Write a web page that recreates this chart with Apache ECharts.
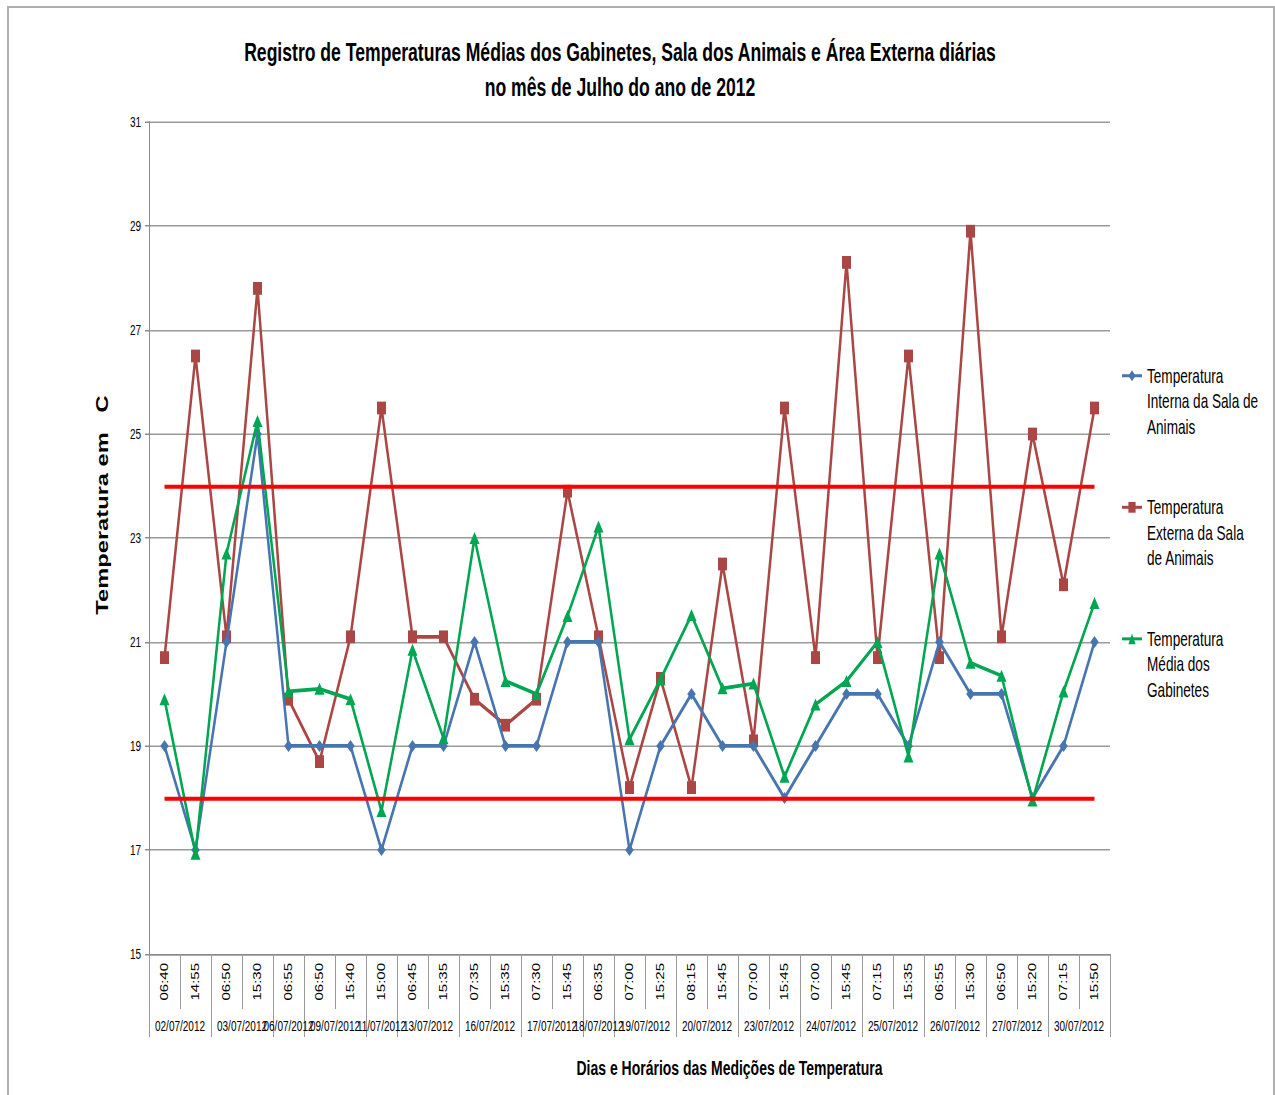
<!DOCTYPE html>
<html>
<head>
<meta charset="utf-8">
<script src="https://cdn.jsdelivr.net/npm/echarts@6/dist/echarts.min.js"></script>
<style>
html,body{margin:0;padding:0;background:#fff;overflow:hidden;width:1275px;height:1095px;}
#wrap{position:absolute;left:0;top:0;width:1275px;height:730px;transform:scaleY(1.5);transform-origin:0 0;}
#chart{width:1275px;height:730px;}
#frame{position:absolute;left:7px;top:6px;width:1264px;height:1110px;border:2px solid #b0b0b0;border-bottom:none;pointer-events:none;}
</style>
</head>
<body>
<div id="wrap"><div id="chart"></div></div>
<div id="frame"></div>
<script>
// ---- data ----
const times = ['06:40','14:55','06:50','15:30','06:55','06:50','15:40','15:00','06:45','15:35','07:35','15:35','07:30','15:45','06:35','07:00','15:25','08:15','15:45','07:00','15:45','07:00','15:45','07:15','15:35','06:55','15:30','06:50','15:20','07:15','15:50'];
const dates = ['02/07/2012','02/07/2012','03/07/2012','03/07/2012','06/07/2012','09/07/2012','09/07/2012','11/07/2012','13/07/2012','13/07/2012','16/07/2012','16/07/2012','17/07/2012','17/07/2012','18/07/2012','19/07/2012','19/07/2012','20/07/2012','20/07/2012','23/07/2012','23/07/2012','24/07/2012','24/07/2012','25/07/2012','25/07/2012','26/07/2012','26/07/2012','27/07/2012','27/07/2012','30/07/2012','30/07/2012'];
const interna = [19,17,21,25,19,19,19,17,19,19,21,19,19,21,21,17,19,20,19,19,18,19,20,20,19,21,20,20,18,19,21];
const externa = [20.7,26.5,21.1,27.8,19.9,18.7,21.1,25.5,21.1,21.1,19.9,19.4,19.9,23.9,21.1,18.2,20.3,18.2,22.5,19.1,25.5,20.7,28.3,20.7,26.5,20.7,28.9,21.1,25,22.1,25.5];
const gabinetes = [19.9,16.93,22.7,25.25,20.05,20.1,19.9,17.75,20.85,19.15,23,20.25,20,21.5,23.22,19.13,20.28,21.52,20.11,20.2,18.41,19.8,20.25,21,18.8,22.7,20.6,20.35,17.95,20.05,21.75];
const limiteSuperior = 24;
const limiteInferior = 18;
const seriesNames = ['Temperatura Interna da Sala de Animais','Temperatura Externa da Sala de Animais','Temperatura Média dos Gabinetes'];
const legendLabels = ['Temperatura\nInterna da Sala de\nAnimais','Temperatura\nExterna da Sala\nde Animais','Temperatura\nMédia dos\nGabinetes'];
const titleText = 'Registro de Temperaturas Médias dos Gabinetes, Sala dos Animais e Área Externa diárias\nno mês de Julho do ano de 2012';
const yTitle = 'Temperatura em   C';
const xTitle = 'Dias e Horários das Medições de Temperatura';

// ---- date groups (from data) ----
const boundaries = [0];
const mids = [];
const midLabel = {};
let start = 0;
for (let i = 1; i <= dates.length; i++) {
  if (i === dates.length || dates[i] !== dates[start]) {
    boundaries.push(i);
    const m = (start + i) / 2;
    mids.push(m);
    midLabel[m] = dates[start];
    start = i;
  }
}

const FONT = "'Liberation Sans', Arial, sans-serif";
const chart = echarts.init(document.getElementById('chart'), null, {renderer: 'svg'});
const colors = ['#4675AF', '#AA4643', '#00A651'];

const option = {
  animation: false,
  backgroundColor: '#fff',
  title: {
    text: titleText,
    left: 620,
    textAlign: 'center',
    top: 23,
    padding: 0,
    textStyle: {fontFamily: FONT, fontWeight: 'bold', fontSize: 17.6, lineHeight: 23.3, color: '#000'}
  },
  legend: {
    orient: 'vertical',
    left: 1121,
    top: 208,
    padding: 0,
    itemGap: 2.7,
    itemWidth: 20,
    itemHeight: 9,
    data: seriesNames,
    // two leading blank lines keep the marker level with the first text line
    formatter: function (name) { return '\n\n' + legendLabels[seriesNames.indexOf(name)]; },
    textStyle: {fontFamily: FONT, fontSize: 13.6, lineHeight: 17, color: '#000'}
  },
  grid: {left: 149, right: 165, top: 81.33, bottom: 94, containLabel: false, outerBoundsMode: 'none'},
  xAxis: [
    {
      type: 'category',
      data: times,
      boundaryGap: true,
      position: 'bottom',
      axisLine: {show: true, lineStyle: {color: '#8a8a8a', width: 1}},
      axisTick: {show: true, interval: 0, length: 36.7, lineStyle: {color: '#9a9a9a', width: 1}},
      axisLabel: {interval: 0, rotate: 90, margin: 6, fontFamily: FONT, fontSize: 10, color: '#000'},
      splitLine: {show: false}
    },
    {
      type: 'value',
      min: 0,
      max: times.length,
      position: 'bottom',
      offset: 0,
      axisLine: {show: false},
      axisTick: {show: true, customValues: boundaries, length: 55.3, lineStyle: {color: '#9a9a9a', width: 1}},
      axisLabel: {show: true, customValues: mids, margin: 43, fontFamily: FONT, fontSize: 10, color: '#000',
        formatter: function (v) { return midLabel[v] || ''; }},
      splitLine: {show: false},
      name: xTitle,
      nameLocation: 'middle',
      nameGap: 69,
      nameTextStyle: {fontFamily: FONT, fontWeight: 'bold', fontSize: 14, color: '#000', padding: [0, 0, 0, 200]}
    }
  ],
  yAxis: {
    type: 'value',
    min: 15,
    max: 31,
    interval: 2,
    axisLine: {show: true, lineStyle: {color: '#8a8a8a', width: 1}},
    axisTick: {show: true, length: 4, lineStyle: {color: '#8a8a8a'}},
    axisLabel: {margin: 8, fontFamily: FONT, fontSize: 10, color: '#000'},
    splitLine: {show: true, lineStyle: {color: '#9a9a9a', width: 1}},
    name: yTitle,
    nameLocation: 'middle',
    nameRotate: 90,
    nameGap: 38,
    nameTextStyle: {fontFamily: FONT, fontWeight: 'bold', fontSize: 15.8, color: '#000', padding: [0, 0, 0, 44]}
  },
  series: [
    {
      name: 'Limites', type: 'line', data: [], z: 1, silent: true,
      markLine: {
        silent: true, symbol: 'none', label: {show: false},
        lineStyle: {color: '#FF0000', width: 2.6, type: 'solid'},
        data: [
          [{coord: [0, limiteSuperior]}, {coord: [times.length - 1, limiteSuperior]}],
          [{coord: [0, limiteInferior]}, {coord: [times.length - 1, limiteInferior]}]
        ]
      }
    },
    {
      name: seriesNames[0], type: 'line', data: interna, z: 3,
      symbol: 'diamond', symbolSize: [8.5, 8],
      lineStyle: {color: colors[0], width: 2.5},
      itemStyle: {color: colors[0]}
    },
    {
      name: seriesNames[1], type: 'line', data: externa, z: 2,
      symbol: 'rect', symbolSize: [9, 8.5],
      lineStyle: {color: colors[1], width: 2.5},
      itemStyle: {color: colors[1]}
    },
    {
      name: seriesNames[2], type: 'line', data: gabinetes, z: 4,
      symbol: 'triangle', symbolSize: [10, 8],
      lineStyle: {color: colors[2], width: 2.5},
      itemStyle: {color: colors[2]}
    }
  ]
};
chart.setOption(option);
</script>
</body>
</html>
